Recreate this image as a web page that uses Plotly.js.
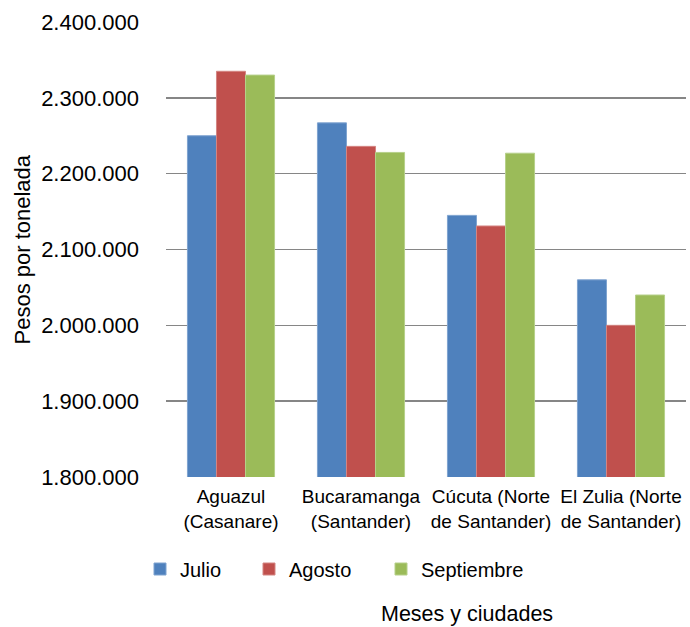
<!DOCTYPE html>
<html>
<head>
<meta charset="utf-8">
<script src="https://cdn.plot.ly/plotly-3.0.1.min.js"></script>
<style>
  html, body { margin: 0; padding: 0; background: #ffffff; }
  #chart { width: 690px; height: 627px; }
</style>
</head>
<body>
<div id="chart"></div>
<script>
var categories = [
  "Aguazul<br>(Casanare)",
  "Bucaramanga<br>(Santander)",
  "Cúcuta (Norte<br>de Santander)",
  "El Zulia (Norte<br>de Santander)"
];
var seriesNames = ["Julio", "Agosto", "Septiembre"];
var julio = [2250000, 2267000, 2145000, 2060000];
var agosto = [2335000, 2236000, 2131000, 2000000];
var septiembre = [2330000, 2228000, 2227000, 2040000];
var colors = ["#4F81BD", "#C0504D", "#9BBB59"];
var edgeColors = ["#7fa3d0", "#d48582", "#b6d08a"];

var FONT = "Liberation Sans, Arial, sans-serif";
var seriesValues = [julio, agosto, septiembre];
var legendIds = ["legend", "legend2", "legend3"];

var traces = seriesValues.map(function (vals, i) {
  return {
    type: "bar",
    name: seriesNames[i],
    x: categories,
    y: vals,
    marker: { color: colors[i], line: { color: edgeColors[i], width: 1 } },
    legend: legendIds[i],
    hoverinfo: "skip"
  };
});

function legendAt(xPx) {
  return {
    orientation: "h",
    x: (xPx - 166) / 520,
    xanchor: "left",
    y: (477 - 569) / 455,
    yanchor: "middle",
    font: { family: FONT, size: 20, color: "#000000" },
    bgcolor: "rgba(0,0,0,0)",
    borderwidth: 0,
    itemwidth: 30
  };
}

var layout = {
  width: 690,
  height: 627,
  margin: { l: 166, r: 4, t: 22, b: 150, pad: 0 },
  paper_bgcolor: "#ffffff",
  plot_bgcolor: "#ffffff",
  separators: ",.",
  barmode: "group",
  bargap: 0.33,
  bargroupgap: 0,
  font: { family: FONT, color: "#000000" },
  xaxis: {
    type: "category",
    showgrid: false,
    showline: false,
    zeroline: false,
    ticks: "",
    tickfont: { family: FONT, size: 19, color: "#000000" },
    ticklabelstandoff: 6
  },
  yaxis: {
    range: [1800000, 2400000],
    dtick: 100000,
    tick0: 1800000,
    tickformat: ",d",
    showgrid: true,
    gridcolor: "#868686",
    gridwidth: 1.6,
    showline: false,
    zeroline: false,
    ticks: "",
    tickfont: { family: FONT, size: 22, color: "#000000" },
    ticklabelstandoff: 26
  },
  showlegend: true,
  legend: legendAt(140),
  legend2: legendAt(249),
  legend3: legendAt(381),
  annotations: [
    {
      text: "Meses y ciudades",
      xref: "paper", yref: "paper",
      x: (467 - 166) / 520, y: (477 - 614) / 455,
      xanchor: "center", yanchor: "middle",
      showarrow: false,
      font: { family: FONT, size: 21.5, color: "#000000" }
    },
    {
      text: "Pesos por tonelada",
      xref: "paper", yref: "paper",
      x: (22 - 166) / 520, y: 0.5,
      xanchor: "center", yanchor: "middle",
      textangle: -90,
      showarrow: false,
      font: { family: FONT, size: 22, color: "#000000" }
    }
  ]
};

Plotly.newPlot("chart", traces, layout, { displayModeBar: false, staticPlot: true });
</script>
</body>
</html>
